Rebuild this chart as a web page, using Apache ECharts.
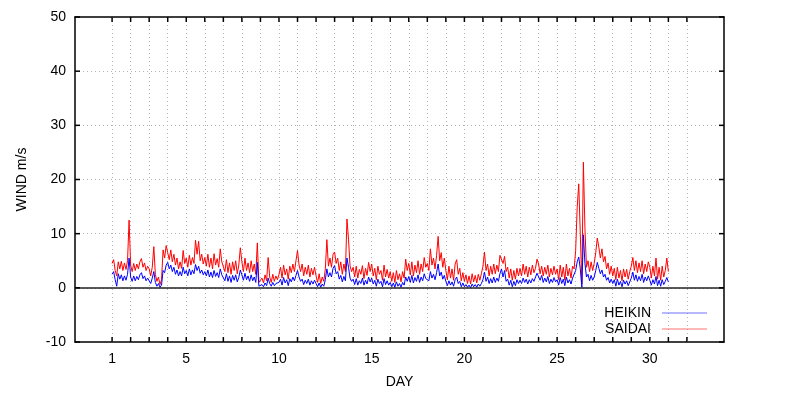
<!DOCTYPE html>
<html>
<head>
<meta charset="utf-8">
<script src="https://cdn.jsdelivr.net/npm/echarts@6/dist/echarts.min.js"></script>
<style>html,body{margin:0;padding:0;background:#fff}#c{width:795px;height:400px}</style>
</head>
<body>
<div id="c"></div>
<script>
// time axis: samples every 2 hours from day 1
var startDay = 1;
var stepDay = 1 / 12;
var xTickDays = [1,2,3,4,5,6,7,8,9,10,11,12,13,14,15,16,17,18,19,20,21,22,23,24,25,26,27,28,29,30,31,32];
var xLabelDays = [1,5,10,15,20,25,30];
var yTicks = [-10,0,10,20,30,40,50];

// SAIDAI (max wind), 12 samples per day
var saidai = [
 4.5,5.2,3.2,2.2,4.8,3.5,4.9,3.2,4.6,3.4,5,12.5,
 4.2,3,4.5,3.2,4.4,3.5,4.8,5.4,3.8,4.6,3.2,4,
 3.5,2.2,3.8,7.6,2.5,1.2,2,0.6,1.5,7,5.5,7.8,
 6.5,5.2,7,4.8,6.2,4.2,5.5,3.5,4.8,3.6,6.9,4.5,
 5.5,3.8,6,4.2,5.6,4.5,8.8,6.2,8.6,5,6.2,4.4,
 5.6,4,6.2,3.8,5.5,3.5,6.3,4.2,5.4,3.8,7.2,4.8,
 4.5,3,5.2,2.8,4.6,2.5,4.8,3.2,5,2.6,4.2,7.4,
 4.8,3,5.5,3.2,4.6,2.8,5,3,4.4,2.5,8.3,1,
 0.7,1.8,0.9,2.4,1.3,5.6,2,1,2.5,1.2,2.2,1.5,
 2.5,3.8,1.8,4.2,2.4,3.5,1.6,4,2.8,4.4,3,5,
 6.9,4.2,3,4.4,2.2,3.8,2.5,4.2,2,3.6,2.4,3.8,
 2.2,1,2.6,0.8,2,1.2,3.5,8.9,4,5.5,3.8,6.2,
 6.6,4.5,5.5,3.2,4.8,2.5,4.4,3,12.7,9,4,3,
 3.8,2,4,1.8,3.4,2.5,4.1,1.7,3.6,2.3,4.7,3,
 4.4,2.2,3.6,1.5,4,2.5,3.2,1.4,4.2,2,3.4,1.8,
 3,1.2,2.8,1,3.2,1.5,2.6,1.1,3,1.8,5.3,3.2,
 4.5,2.4,4.8,2.2,4.2,2.8,5,2.5,4.4,3,5.6,3.8,
 4.5,3.2,7.2,4.2,5.5,3.5,6,9.5,5,6.5,3.8,5.5,
 3.2,1.5,4,1.8,3.5,1.4,4.4,5.2,2.5,3.6,1.3,2.8,
 1.2,2.4,0.8,2.2,0.7,2.6,1.1,2.3,0.9,2.5,1.4,2.6,
 4,6.6,3.2,4.4,2.2,4,2.5,4.4,2.6,4.2,3,6,
 6,4.5,5.8,3,3.8,1.8,3.5,1.4,3.2,1.6,3.6,2.2,
 3.6,2.2,4.4,2.5,4,2,3.8,2.4,4.2,2.8,3.6,5.3,
 4.4,2.6,4,2.2,3.8,2.5,4.2,2,3.6,2.4,4,2.5,
 3.5,1.5,4.2,2,3.8,1.4,4.4,2.2,3.6,1.8,4,3.5,
 6.9,14.9,19.2,10,0.7,23.2,11,3.8,5,3,4.8,3.2,
 4.5,6.5,9.2,7.5,5.5,7.2,4.8,5.8,3.5,4.6,2.5,4,
 2.2,3.6,1.5,3.8,1.8,3.2,1.3,3.5,2,3.4,1.6,3,
 4,5.6,3.2,5,2.8,4.6,3,5,2.6,4.4,3,4.8,
 3.8,1.8,4,2.2,5.5,1.6,3.8,1.4,4,2,3.2,5.5,
 3
];

// HEIKIN (mean wind), 12 samples per day
var heikin = [
 2.5,3,1.5,0.3,2.6,1.6,2.4,1.3,2.2,1.4,2.5,5.5,
 2,1.2,2.2,1.3,2.1,1.5,2.4,2.8,1.7,2.2,1.3,1.8,
 1.5,0.8,1.8,3,1,0.3,0.8,0.1,0.5,3.2,2.8,4.2,
 4.7,3.5,4.2,3,3.8,2.5,3.3,2.2,3,2.2,3.8,2.6,
 3.2,2.2,3.5,2.4,3.3,2.6,4.3,3.2,4,2.7,3.3,2.4,
 3,2.2,3.3,2,2.9,1.9,3.2,2.1,2.8,1.9,3.5,2.4,
 2.2,1.3,2.6,1.2,2.2,1,2.3,1.4,2.4,1.1,1.9,3.3,
 2.4,1.4,2.7,1.5,2.2,1.2,2.4,1.3,2,1,4.7,0.3,
 0.1,0.6,0.2,0.9,0.4,1.8,0.8,0.3,1,0.4,0.8,0.6,
 1,1.6,0.5,1.9,0.9,1.5,0.4,1.7,1.1,2,1.3,2.3,
 3.2,2,1.2,1.6,0.6,1.4,0.8,1.6,0.5,1.3,0.7,1.4,
 0.8,0.2,0.9,0.1,0.7,0.3,1.5,3.5,2,2.8,2,3.6,
 4.1,2.6,3,1.6,2.3,1.1,2.1,1.3,5.5,3.8,1.8,1.2,
 1.6,0.6,1.7,0.5,1.3,0.8,1.8,0.5,1.4,0.7,2,1.1,
 1.8,0.7,1.4,0.3,1.6,0.8,1.2,0.2,1.7,0.6,1.3,0.5,
 1,0.2,0.9,0.1,1.1,0.3,0.8,0.1,1,0.5,2,1.2,
 2.1,1,2.3,0.9,1.9,1.2,2.4,1,2,1.3,2.6,1.7,
 2,1.3,3,1.8,2.5,1.5,2.8,4.4,2.2,2.9,1.6,2.3,
 1.2,0.4,1.3,0.5,1.1,0.3,1.5,2,0.8,1.2,0.2,0.9,
 0.2,0.6,0.1,0.5,0,0.7,0.2,0.6,0.1,0.7,0.3,0.8,
 1.5,2.9,1.2,2,0.8,1.7,0.9,2,1,1.8,1.2,2.6,
 3.5,2,3.2,1.2,1.6,0.5,1.4,0.2,1.2,0.4,1.5,0.8,
 1.4,0.8,1.8,1,1.6,0.7,1.5,0.9,1.7,1.2,1.5,2.7,
 2.9,1.4,2.3,1,1.8,1.1,2.1,0.8,1.6,1,1.9,1.1,
 1.5,0.5,1.9,0.8,1.6,0.4,2,0.9,1.5,0.7,1.8,1.6,
 3.2,4.8,5.7,3.5,0.1,9.8,4.5,2,2.5,1.3,2.3,1.4,
 2,3.2,4.7,3.6,2.6,3.3,2,2.5,1.4,1.9,0.9,1.6,
 0.8,1.5,0.3,1.6,0.5,1.2,0.2,1.4,0.7,1.3,0.4,1.1,
 1.8,2.9,1.4,2.4,1.2,2.1,1.3,2.5,1,2,1.3,2.2,
 1.4,0.5,1.5,0.7,2.1,0.4,1.4,0.3,1.5,0.6,1.2,1.9,
 1.1
];

function toPairs(vals){
  var out = [];
  for (var i = 0; i < vals.length; i++) out.push([startDay + i * stepDay, vals[i]]);
  return out;
}

var X_MIN = -1, X_MAX = 34, Y_MIN = -10, Y_MAX = 50;
// tick length expressed in axis units (about 5 px)
var TX = (X_MAX - X_MIN) * 5 / 649;
var TY = (Y_MAX - Y_MIN) * 5 / 325;

// border ticks drawn as short segments (top/bottom at each day, left/right at each y tick)
var tickSegs = [];
xTickDays.forEach(function(d){
  tickSegs.push([d, Y_MIN, d, Y_MIN + TY]);
  tickSegs.push([d, Y_MAX, d, Y_MAX - TY]);
});
yTicks.forEach(function(v){
  tickSegs.push([X_MIN, v, X_MIN + TX, v]);
  tickSegs.push([X_MAX, v, X_MAX - TX, v]);
});

var FONT = 'Liberation Sans';
var chart = echarts.init(document.getElementById('c'), null, {renderer:'canvas'});
var dotted = {color:'#b4b4b4', width:1, type:[1,3]};
var borderLine = {show:true, onZero:false, lineStyle:{color:'#000', width:1.5}};
chart.setOption({
  animation:false,
  backgroundColor:'#fff',
  textStyle:{fontFamily:FONT},
  grid:{left:75, right:71, top:17, bottom:58, show:false, containLabel:false},
  legend:{
    orient:'vertical', right:83, top:300, align:'right',
    itemWidth:45, itemHeight:1, itemGap:0,
    textStyle:{fontFamily:FONT, fontSize:14, color:'#000', lineHeight:16, padding:[0,6,0,0]},
    data:[
      {name:'HEIKIN', icon:'rect', itemStyle:{color:'#7070ff'}},
      {name:'SAIDAI', icon:'rect', itemStyle:{color:'#ff7070'}}
    ]
  },
  xAxis:[{
    type:'value', min:X_MIN, max:X_MAX, interval:1, position:'bottom',
    name:'DAY', nameLocation:'middle', nameGap:33,
    nameTextStyle:{fontFamily:FONT, fontSize:14, color:'#000'},
    axisLine:borderLine,
    axisTick:{show:false},
    axisLabel:{show:true, customValues:xLabelDays, margin:10, fontFamily:FONT, fontSize:14, color:'#000'},
    splitLine:{show:false}
  },{
    type:'value', min:X_MIN, max:X_MAX, interval:1, position:'top',
    axisLine:borderLine,
    axisTick:{show:false},
    axisLabel:{show:false},
    splitLine:{show:false}
  }],
  yAxis:[{
    type:'value', min:Y_MIN, max:Y_MAX, interval:10, position:'left',
    name:'WIND m/s', nameLocation:'middle', nameGap:46, nameRotate:90,
    nameTextStyle:{fontFamily:FONT, fontSize:14, color:'#000'},
    axisLine:borderLine,
    axisTick:{show:false},
    axisLabel:{margin:9, fontFamily:FONT, fontSize:14, color:'#000'},
    splitLine:{show:true, showMinLine:false, showMaxLine:false, lineStyle:dotted}
  },{
    type:'value', min:Y_MIN, max:Y_MAX, interval:10, position:'right',
    axisLine:borderLine,
    axisTick:{show:false},
    axisLabel:{show:false},
    splitLine:{show:false}
  }],
  series:[{
    name:'HEIKIN', type:'line', data:toPairs(heikin), showSymbol:false, symbol:'none', z:4,
    lineStyle:{color:'#0000ff', width:1}, itemStyle:{color:'#0000ff'},
    markLine:{silent:true, z:1, symbol:'none', label:{show:false}, animation:false,
      lineStyle:dotted,
      data:xTickDays.map(function(d){ return {xAxis:d}; })}
  },{
    name:'SAIDAI', type:'line', data:toPairs(saidai), showSymbol:false, symbol:'none', z:3,
    lineStyle:{color:'#ff0000', width:1}, itemStyle:{color:'#ff0000'},
    markLine:{silent:true, z:5, symbol:'none', label:{show:false}, animation:false,
      lineStyle:{color:'#222', width:1.5, type:'solid'}, data:[{yAxis:0}]}
  },{
    name:'ticks', type:'custom', silent:true, z:6, clip:false,
    data:tickSegs,
    renderItem:function(params, api){
      var p1 = api.coord([api.value(0), api.value(1)]);
      var p2 = api.coord([api.value(2), api.value(3)]);
      return {type:'line', shape:{x1:p1[0], y1:p1[1], x2:p2[0], y2:p2[1]},
        style:{stroke:'#000', lineWidth:1.5}};
    }
  }]
});
</script>
</body>
</html>
